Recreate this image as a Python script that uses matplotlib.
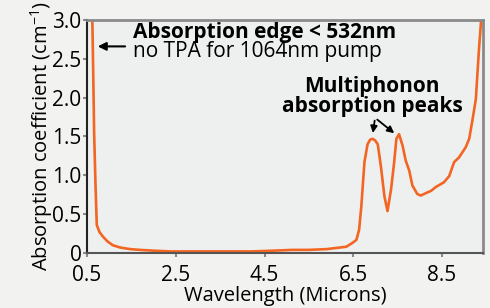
import numpy as np
import matplotlib.pyplot as plt

plt.rcParams['font.family'] = ['Open Sans', 'DejaVu Sans']

# wavelength (microns) and absorption coefficient (cm^-1)
wl = [0.60, 0.62, 0.64, 0.66, 0.69, 0.72, 0.78, 0.86, 0.96, 1.08, 1.25, 1.47, 1.69,
      2.0, 2.4, 2.8, 3.3, 3.8, 4.2, 4.7, 5.13, 5.5, 5.9, 6.19, 6.34, 6.48, 6.57,
      6.63, 6.68, 6.75, 6.82, 6.88, 6.93, 6.99, 7.05, 7.12, 7.2, 7.27, 7.35, 7.42,
      7.47, 7.53, 7.61, 7.68, 7.76, 7.83, 7.94, 8.02, 8.13, 8.25, 8.36, 8.54, 8.66,
      8.77, 8.88, 9.03, 9.11, 9.18, 9.26, 9.33, 9.38, 9.42]
absorb = [3.6, 3.0, 2.3, 1.55, 0.9, 0.36, 0.27, 0.21, 0.15, 0.10, 0.07, 0.05, 0.04,
          0.03, 0.02, 0.02, 0.02, 0.02, 0.02, 0.03, 0.04, 0.04, 0.05, 0.07, 0.08, 0.13, 0.17,
          0.30, 0.6, 1.17, 1.40, 1.46, 1.47, 1.45, 1.40, 1.12, 0.73, 0.54, 0.82, 1.17,
          1.47, 1.53, 1.38, 1.19, 1.06, 0.87, 0.76, 0.74, 0.77, 0.80, 0.85, 0.91, 0.99,
          1.17, 1.23, 1.36, 1.47, 1.70, 1.98, 2.62, 3.0, 3.4]

x_ticks = [0.5, 2.5, 4.5, 6.5, 8.5]
y_ticks = [0, 0.5, 1.0, 1.5, 2.0, 2.5, 3.0]
y_labels = ['0', '0.5', '1.0', '1.5', '2.0', '2.5', '3.0']

fig = plt.figure(figsize=(4.9, 3.08), dpi=100)
fig.patch.set_facecolor('#f2f2f1')
ax = fig.add_axes([0.1776, 0.1786, 0.808, 0.7565])
ax.set_facecolor('#eef0f0')

ax.plot(wl, absorb, color='#f26522', linewidth=1.9, solid_capstyle='round')

ax.set_xlim(0.5, 9.42)
ax.set_ylim(0, 3.0)
ax.set_xticks(x_ticks)
ax.set_xticklabels([str(v) for v in x_ticks], fontsize=15)
ax.set_yticks(y_ticks)
ax.set_yticklabels(y_labels, fontsize=15)
ax.tick_params(direction='out', length=3, width=1.5, color='#8a8a8a')
ax.tick_params(axis='x', pad=5.5)
ax.tick_params(axis='y', pad=1)

ax.spines['left'].set_color('#222222')
ax.spines['left'].set_linewidth(1.5)
ax.spines['bottom'].set_color('#555555')
ax.spines['bottom'].set_linewidth(1.5)
ax.spines['top'].set_color('#8a8a8a')
ax.spines['top'].set_linewidth(2)
ax.spines['right'].set_color('#8a8a8a')
ax.spines['right'].set_linewidth(2)

ax.set_xlabel('Wavelength (Microns)', fontsize=14.5, labelpad=0)
ax.set_ylabel('Absorption coefficient (cm$^{\\mathregular{-1}}$)', fontsize=14.5, labelpad=-2)

ax.text(1.53, 2.84, 'Absorption edge < 532nm', fontsize=15, fontweight='bold',
        va='center', ha='left')
ax.text(1.53, 2.59, 'no TPA for 1064nm pump', fontsize=15, va='center', ha='left')
ax.annotate('', xy=(0.68, 2.66), xytext=(1.42, 2.66),
            arrowprops=dict(arrowstyle='-|>', color='black', lw=1.5, mutation_scale=12))

ax.text(6.92, 2.15, 'Multiphonon', fontsize=15, fontweight='bold', ha='center', va='center')
ax.text(6.92, 1.88, 'absorption peaks', fontsize=15, fontweight='bold', ha='center', va='center')
ax.annotate('', xy=(6.93, 1.51), xytext=(6.99, 1.74),
            arrowprops=dict(arrowstyle='-|>', color='black', lw=1.3, mutation_scale=10))
ax.annotate('', xy=(7.47, 1.52), xytext=(6.99, 1.74),
            arrowprops=dict(arrowstyle='-|>', color='black', lw=1.3, mutation_scale=10))

fig.savefig('out.png', dpi=100, facecolor=fig.get_facecolor())
